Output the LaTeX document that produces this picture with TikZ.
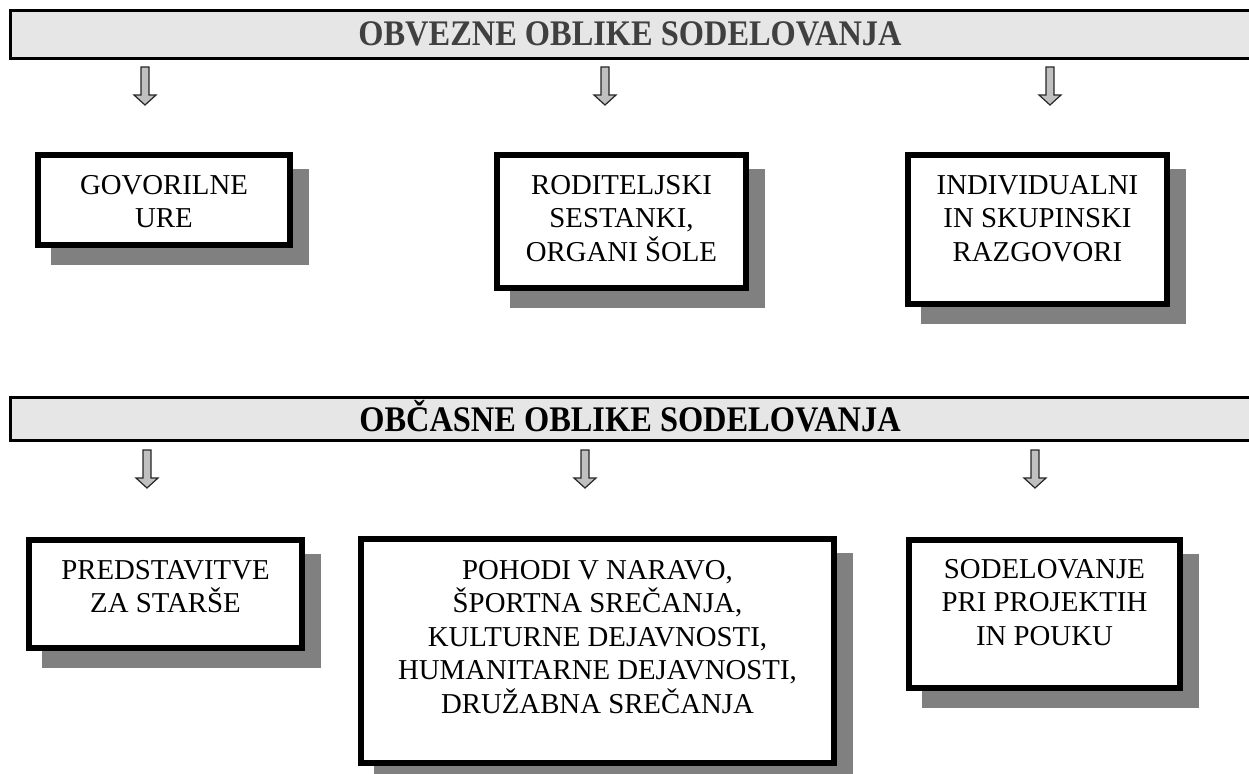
\documentclass[tikz,border=0pt]{standalone}
\usepackage{fontspec}
\setmainfont{Liberation Serif}
\newfontfamily\hdrfont[FakeStretch=0.9]{Liberation Serif}
\usetikzlibrary{fit}
\definecolor{barfill}{HTML}{E6E6E6}
\definecolor{shadowgray}{HTML}{808080}
\definecolor{arrowfill}{HTML}{C0C0C0}
\definecolor{titlegray}{HTML}{404040}
\begin{document}
\begin{tikzpicture}[x=0.5pt,y=-0.5pt,
  hdr/.style={draw=black, line width=1.5pt, fill=barfill, inner sep=0pt},
  hdrtext/.style={font=\hdrfont\fontsize{18}{20}\selectfont\bfseries, inner sep=0pt},
  box/.style={draw=black, line width=3pt, fill=white, inner sep=0pt,
    preaction={fill=shadowgray, draw=shadowgray, transform canvas={xshift=8pt, yshift=-8.5pt}}},
  boxtext/.style={font=\fontsize{14.4}{16.75}\selectfont, align=center, anchor=north, inner sep=0pt},
  blk/.style={fill=arrowfill, draw=black!85, line width=0.6pt, line join=miter},
  pics/blockarrow/.style={code={
    \path[blk] (-4,0) -- (4,0) -- (4,28) -- (11,28) -- (0,38) -- (-11,28) -- (-4,28) -- cycle;}}
]
\useasboundingbox (0,0) rectangle (1249,773);

% headers
\node[hdr, fit={(10.5,10.5) (1262,58)}] (h1) {};
\node[hdrtext, text=titlegray, anchor=base] (t1) at (630,45) {OBVEZNE OBLIKE SODELOVANJA};
\node[hdr, fit={(10.5,397.5) (1262,440)}] (h2) {};
\node[hdrtext, text=black, anchor=base] (t2) at (630,431) {OBČASNE OBLIKE SODELOVANJA};

% block arrows
\pic at (145,67) {blockarrow};
\pic at (605,67) {blockarrow};
\pic at (1050,67) {blockarrow};
\pic at (147,450) {blockarrow};
\pic at (585,450) {blockarrow};
\pic at (1035,450) {blockarrow};

% row 1 boxes
\node[box, fit={(38,155) (290,245)}] (b1) {};
\node[boxtext] (l1) at (164,175) {GOVORILNE\\URE};
\node[box, fit={(497,155) (746,288)}] (b2) {};
\node[boxtext] (l2) at (621.5,175) {RODITELJSKI\\SESTANKI,\\ORGANI ŠOLE};
\node[box, fit={(908,155) (1167,304)}] (b3) {};
\node[boxtext] (l3) at (1037.5,175) {INDIVIDUALNI\\IN SKUPINSKI\\RAZGOVORI};

% row 2 boxes
\node[box, fit={(29,540) (302,648)}] (b4) {};
\node[boxtext] (l4) at (165.5,560) {PREDSTAVITVE\\ZA STARŠE};
\node[box, fit={(361,539) (834,763)}] (b5) {};
\node[boxtext] (l5) at (597.5,560) {POHODI V NARAVO,\\ŠPORTNA SREČANJA,\\KULTURNE DEJAVNOSTI,\\HUMANITARNE DEJAVNOSTI,\\DRUŽABNA SREČANJA};
\node[box, fit={(909,540) (1180,688)}] (b6) {};
\node[boxtext] (l6) at (1044.5,559) {SODELOVANJE\\PRI PROJEKTIH\\IN POUKU};
\end{tikzpicture}
\end{document}
